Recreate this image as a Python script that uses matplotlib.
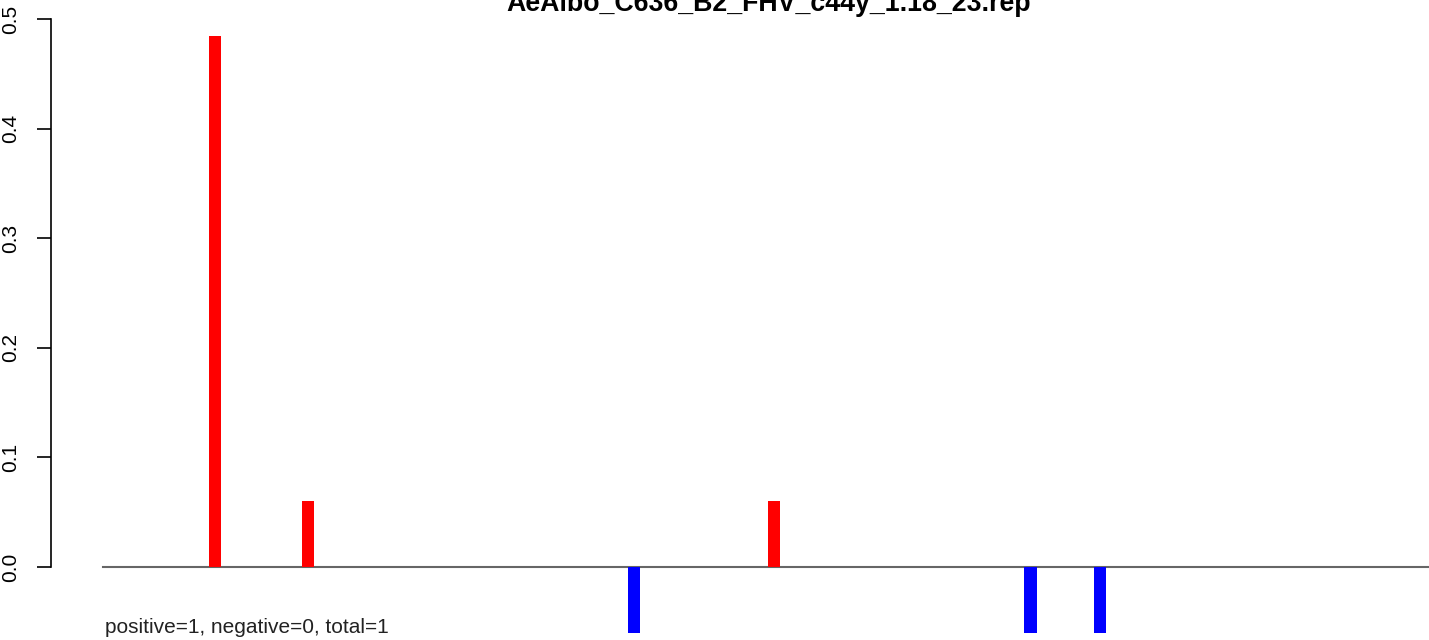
import numpy as np
import matplotlib
matplotlib.use("Agg")
import matplotlib.pyplot as plt

plt.rcParams['font.family'] = ['Liberation Sans', 'DejaVu Sans']

# read positions (bp offset) and fractions
positions = [5, 9, 23, 29, 40, 43]
values = [0.4848, 0.0606, -0.0606, 0.0606, -0.0606, -0.0606]
title = "AeAlbo_C636_B2_FHV_c44y_1.18_23.rep"
summary = "positive=1, negative=0, total=1"
yticks = [0.0, 0.1, 0.2, 0.3, 0.4, 0.5]

W, H = 1429, 640
left_px = 51
unit = 23.3  # pixels per position
fig = plt.figure(figsize=(W / 100, H / 100), dpi=100)
ax = fig.add_axes([left_px / W, 0, 1 - left_px / W, 1])

colors = ['red' if v > 0 else 'blue' for v in values]
ax.bar(positions, values, width=0.52, color=colors, linewidth=0, zorder=2)

x0 = positions[0] - (215 - left_px) / unit
x1 = positions[0] + (W - 215) / unit
ax.plot([0.2, x1], [0, 0], color='#666666', linewidth=1.5, zorder=1)
ax.set_xlim(x0, x1)
ax.set_ylim(-73 / 1096, 567 / 1096)

for s in ['top', 'right', 'bottom']:
    ax.spines[s].set_visible(False)
ax.spines['left'].set_bounds(0, 0.5)
ax.spines['left'].set_linewidth(1.2)
ax.set_xticks([])
ax.set_yticks(yticks)
ax.set_yticklabels([f"{t:.1f}" for t in yticks], rotation=90, va='center', fontsize=15)
ax.tick_params(axis='y', length=10, width=1.2, pad=12)

fig.text(769 / W, 1 - 11 / H, title, ha='center', va='baseline', fontsize=19.3, fontweight='bold')
fig.text(105 / W, 1 - 633 / H, summary, ha='left', va='baseline', fontsize=15, color='#222222')

fig.savefig('out.png', dpi=100)
